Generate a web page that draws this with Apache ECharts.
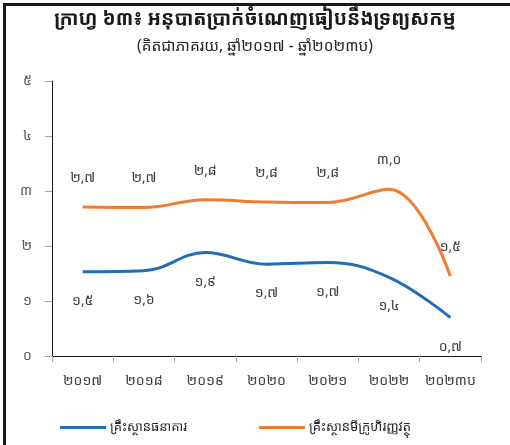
<!DOCTYPE html>
<html>
<head>
<meta charset="utf-8">
<script src="https://cdn.jsdelivr.net/npm/echarts@6/dist/echarts.min.js"></script>
<style>
html,body{margin:0;padding:0;background:#fff;}
#wrap{position:absolute;left:0;top:0;width:510px;height:445px;}
#frameTop{position:absolute;left:3px;top:3px;width:507px;height:3px;background:#1a1a1a;}
#frameLeft{position:absolute;left:3px;top:3px;width:3px;height:442px;background:#1a1a1a;}
#chart{position:absolute;left:0;top:0;width:510px;height:445px;}
</style>
</head>
<body>
<div id="wrap">
<div id="chart"></div>
<div id="frameTop"></div>
<div id="frameLeft"></div>
</div>
<script>
const categories = ['២០១៧','២០១៨','២០១៩','២០២០','២០២១','២០២២','២០២៣ប'];
const bankValues = [1.53, 1.55, 1.88, 1.67, 1.70, 1.43, 0.70];
const mfiValues = [2.71, 2.70, 2.84, 2.80, 2.79, 3.03, 1.45];
const yTickLabels = ['០','១','២','៣','៤','៥'];
const seriesNames = ['គ្រឹះស្ថានធនាគារ','គ្រឹះស្ថានមីក្រូហិរញ្ញវត្ថុ'];
const titleText = 'ក្រាហ្វ ៦៣៖ អនុបាតប្រាក់ចំណេញធៀបនឹងទ្រព្យសកម្ម';
const subtitleText = '(គិតជាភាគរយ, ឆ្នាំ២០១៧ - ឆ្នាំ២០២៣ប)';

const khDigits = '០១២៣៤៥៦៧៨៩';
function toKh(s){ return String(s).replace(/[0-9]/g, d => khDigits[+d]); }
function fmtVal(v){ return toKh((Math.round(v*10)/10).toFixed(1).replace('.', ',')); }

const FONT = '"Khmer OS", "Noto Sans Khmer", "Khmer OS System", "DejaVu Sans", sans-serif';
const legendCommon = {orient:'horizontal', itemWidth:46, itemHeight:3, icon:'rect', itemGap:6,
  textStyle:{fontSize:13, color:'#262626', fontFamily:FONT, padding:[0,0,0,-1]}};
const chart = echarts.init(document.getElementById('chart'), null, {renderer:'canvas'});
chart.setOption({
  animation:false,
  backgroundColor:'#fff',
  textStyle:{fontFamily:FONT},
  title:[
    {text:titleText, left:'center', top:4, textStyle:{fontSize:19.5, fontWeight:'bold', color:'#1a1a1a', fontFamily:FONT}},
    {text:subtitleText, left:'center', top:34, textStyle:{fontSize:15.5, fontWeight:'normal', color:'#262626', fontFamily:FONT}}
  ],
  legend:[
    Object.assign({}, legendCommon, {left:55, top:416, data:[seriesNames[0]]}),
    Object.assign({}, legendCommon, {left:254, top:416, data:[seriesNames[1]]})
  ],
  grid:{left:52, right:29, top:81, bottom:89, containLabel:false},
  xAxis:{
    type:'category', data:categories, boundaryGap:true,
    axisLine:{lineStyle:{color:'#1a1a1a', width:1}},
    axisTick:{show:true, length:6, lineStyle:{color:'#a6a6a6'}},
    axisLabel:{interval:0, fontSize:14, color:'#404040', margin:18, fontFamily:FONT}
  },
  yAxis:{
    type:'value', min:0, max:5, interval:1,
    axisLine:{show:true, lineStyle:{color:'#1a1a1a', width:1}},
    axisTick:{show:true, inside:false, length:7, lineStyle:{color:'#a6a6a6'}},
    splitLine:{show:false},
    axisLabel:{fontSize:14, color:'#595959', margin:20, fontFamily:FONT, formatter:(v)=>yTickLabels[Math.round(v)]}
  },
  series:[
    {name:seriesNames[0], type:'line', data:bankValues, smooth:0.4,
     showSymbol:true, symbol:'circle', symbolSize:0.1,
     lineStyle:{color:'#1f6eb6', width:3}, itemStyle:{color:'#1f6eb6'},
     label:{show:true, position:'bottom', distance:22, fontSize:14, color:'#404040', fontFamily:FONT, formatter:(p)=>fmtVal(p.value)}},
    {name:seriesNames[1], type:'line', data:mfiValues, smooth:0.4,
     showSymbol:true, symbol:'circle', symbolSize:0.1,
     lineStyle:{color:'#ee7d31', width:3}, itemStyle:{color:'#ee7d31'},
     label:{show:true, position:'top', distance:22, fontSize:14, color:'#404040', fontFamily:FONT, formatter:(p)=>fmtVal(p.value)}}
  ]
});
</script>
</body>
</html>
